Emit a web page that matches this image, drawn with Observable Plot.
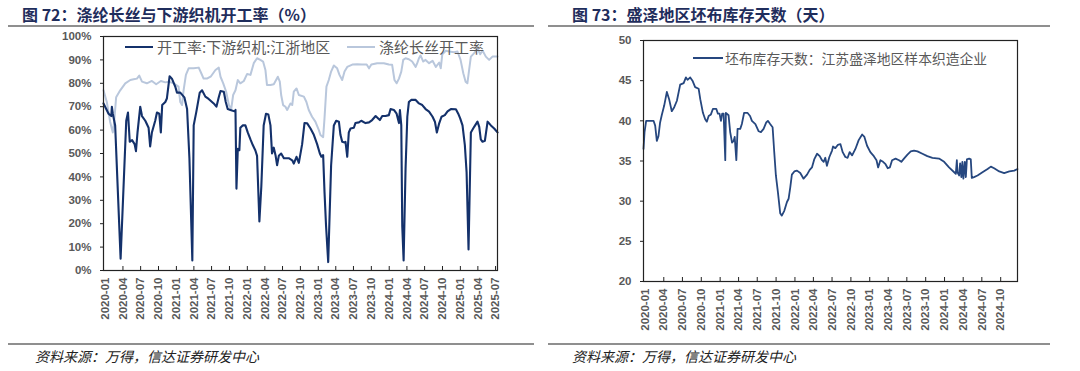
<!DOCTYPE html>
<html><head><meta charset="utf-8">
<script src="https://cdn.jsdelivr.net/npm/d3@7"></script>
<script src="https://cdn.jsdelivr.net/npm/@observablehq/plot@0.6"></script>
<style>
body{margin:0;background:#fff;width:1080px;height:371px;overflow:hidden;font-family:"Noto Sans CJK SC",sans-serif;}
#wrap{position:relative;width:1080px;height:371px;}
.title{position:absolute;top:1px;font-size:16px;line-height:26px;font-weight:bold;color:#1f2d5c;white-space:nowrap;}
.hr{position:absolute;height:2px;background:#8f8f8f;}
.src{position:absolute;top:346px;font-size:14px;line-height:20px;font-style:italic;color:#222;white-space:nowrap;}
.chart{position:absolute;top:0;}
.legend{position:absolute;color:#595959;white-space:nowrap;display:flex;align-items:center;line-height:18px;}
.legend .sw{display:inline-block;height:0;border-top:2px solid;margin-right:4px;}
</style></head>
<body><div id="wrap"></div>
<script>
// ---------- Data ----------
const leftTitle = "图 72：涤纶长丝与下游织机开工率（%）";
const rightTitle = "图 73：盛泽地区坯布库存天数（天）";
const sourceText = "资料来源：万得，信达证券研发中心";
const loomName = "开工率:下游织机:江浙地区";
const filamentName = "涤纶长丝开工率";
const stockName = "坯布库存天数：江苏盛泽地区样本织造企业";

const leftTickLabels = ["2020-01","2020-04","2020-07","2020-10","2021-01","2021-04","2021-07","2021-10","2022-01","2022-04","2022-07","2022-10","2023-01","2023-04","2023-07","2023-10","2024-01","2024-04","2024-07","2024-10","2025-01","2025-04","2025-07"];
const rightTickLabels = ["2020-01","2020-04","2020-07","2020-10","2021-01","2021-04","2021-07","2021-10","2022-01","2022-04","2022-07","2022-10","2023-01","2023-04","2023-07","2023-10","2024-01","2024-04","2024-07","2024-10"];
const leftYTicks = [0,10,20,30,40,50,60,70,80,90,100];
const rightYTicks = [20,25,30,35,40,45,50];

const loomDates = [
"2019-12-23","2020-01-18","2020-02-01","2020-02-04","2020-02-09","2020-02-21","2020-03-20","2020-04-18","2020-04-27","2020-05-06",
"2020-05-18","2020-05-31","2020-06-07","2020-06-15","2020-06-29","2020-07-08","2020-07-25","2020-08-11","2020-08-19","2020-08-28",
"2020-09-14","2020-09-23","2020-10-05","2020-10-13","2020-10-20","2020-11-05","2020-11-13","2020-11-27","2020-12-09","2020-12-26",
"2021-01-04","2021-01-21","2021-02-11","2021-02-25","2021-03-09","2021-03-24","2021-03-31","2021-04-14","2021-05-01","2021-05-13",
"2021-05-30","2021-06-16","2021-07-12","2021-07-26","2021-08-07","2021-08-16","2021-09-02","2021-09-12","2021-09-22","2021-10-06",
"2021-10-27","2021-11-01","2021-11-06","2021-11-13","2021-11-21","2021-11-26","2021-12-08","2021-12-22","2022-01-03","2022-01-17",
"2022-01-29","2022-02-11","2022-02-20","2022-03-04","2022-03-14","2022-03-26","2022-04-07","2022-04-19","2022-04-30","2022-05-08",
"2022-05-17","2022-05-26","2022-06-03","2022-06-12","2022-06-24","2022-07-08","2022-08-02","2022-08-20","2022-08-28","2022-09-11",
"2022-09-23","2022-10-10","2022-10-22","2022-11-05","2022-11-22","2022-12-09","2022-12-26","2023-01-09","2023-01-17","2023-01-26",
"2023-02-02","2023-02-10","2023-02-21","2023-03-08","2023-03-22","2023-04-03","2023-04-17","2023-04-25","2023-05-04","2023-05-16",
"2023-05-21","2023-05-30","2023-06-07","2023-06-16","2023-07-03","2023-07-11","2023-07-29","2023-08-10","2023-09-01","2023-09-19",
"2023-10-05","2023-10-23","2023-11-04","2023-11-14","2023-11-26","2023-12-13","2023-12-30","2024-01-08","2024-01-25","2024-02-08",
"2024-02-20","2024-02-25","2024-03-03","2024-03-08","2024-03-15","2024-03-25","2024-04-03","2024-04-11","2024-04-23","2024-05-16",
"2024-06-02","2024-06-19","2024-07-06","2024-07-24","2024-08-11","2024-08-23","2024-09-02","2024-09-14","2024-09-26","2024-10-13",
"2024-10-27","2024-11-13","2024-12-09","2024-12-21","2024-12-31","2025-01-12","2025-01-24","2025-02-02","2025-02-12","2025-02-24",
"2025-03-13","2025-03-30","2025-04-08","2025-04-16","2025-04-25","2025-05-07","2025-05-21","2025-06-07","2025-06-24","2025-07-11"];
const loomRate = [
71.4,67,66,70,67,62,5,64,67.5,55,
55.7,54,51,59,70,66,64,61,53,59,
64,67.5,67,59,70.7,72,73.5,83,82,78.6,
76,76,74,69,48,4.3,62,68,76,77,
74.3,73.3,71.4,70,74,76.7,76.4,72,69,68.6,
68,68.6,35,52,51.4,61,62,62,59,56,
53.6,51.4,49,21,36,62,67,66.7,62,50,
52.5,49.3,45,49,50,48,48,47.1,45.7,48.6,
46,54,63,62.9,60.7,58,54,50,48.6,49.3,
33.6,19,3.6,45,62,64,63.6,58,55,54.7,
55,48.6,59,60.7,61,63,63.3,64,63,63.3,
64.3,66,65.1,64.3,66,66,66.4,69,68.6,67,
63,68.6,62,19,4.3,43.6,65.7,72,72.9,72.9,
71.4,70.7,69,67.9,65.7,63.6,59,62.9,65.7,66.4,
68,69,68.9,67,65,62,53.6,42,9,59,
61.4,63.6,61.4,56,55,55.4,63.6,62,60.7,59];

const filamentDates = [
"2019-12-23","2020-01-09","2020-01-26","2020-02-09","2020-02-16","2020-02-26","2020-03-18","2020-04-13","2020-05-09","2020-05-26",
"2020-06-12","2020-06-24","2020-07-08","2020-08-02","2020-08-28","2020-09-19","2020-10-13","2020-11-05","2020-11-22","2020-12-18",
"2021-01-12","2021-01-21","2021-01-30","2021-02-07","2021-02-19","2021-03-05","2021-03-31","2021-04-26","2021-05-09","2021-05-21",
"2021-06-07","2021-06-28","2021-07-21","2021-08-07","2021-08-16","2021-08-30","2021-09-14","2021-09-28","2021-10-10","2021-10-20",
"2021-11-01","2021-11-13","2021-11-26","2021-12-14","2021-12-31","2022-01-17","2022-02-03","2022-02-20","2022-03-09","2022-03-23",
"2022-04-04","2022-04-12","2022-04-30","2022-05-17","2022-06-07","2022-06-17","2022-06-24","2022-07-04","2022-07-16","2022-07-25",
"2022-08-11","2022-08-20","2022-08-28","2022-09-11","2022-09-23","2022-10-19","2022-11-01","2022-11-13","2022-11-30","2022-12-17",
"2023-01-04","2023-01-12","2023-01-26","2023-02-02","2023-02-12","2023-02-24","2023-03-08","2023-03-22","2023-04-08","2023-04-20",
"2023-05-04","2023-05-16","2023-05-30","2023-06-25","2023-07-20","2023-08-15","2023-09-07","2023-09-19","2023-10-01","2023-10-31",
"2023-12-04","2023-12-30","2024-01-16","2024-01-28","2024-02-08","2024-02-20","2024-03-03","2024-03-13","2024-03-25","2024-04-11",
"2024-04-28","2024-05-16","2024-05-24","2024-06-02","2024-06-10","2024-06-24","2024-07-06","2024-07-24","2024-08-11","2024-08-28",
"2024-09-14","2024-09-22","2024-09-30","2024-10-18","2024-11-04","2024-11-30","2024-12-17","2025-01-02","2025-01-16","2025-01-28",
"2025-02-06","2025-02-15","2025-02-24","2025-03-13","2025-03-30","2025-04-13","2025-04-25","2025-05-12","2025-05-29","2025-06-15",
"2025-06-27","2025-07-11"];
const filamentRate = [
77,72,63.6,59,63.6,74,77,80,81.4,81.7,
82,83.3,80.7,80,81,79.6,81,80.4,80.7,80,
78.6,72,70.7,77,83.6,86.4,86.4,86.7,84.3,82,
82,83,85.7,86.7,82.8,80,76.4,70.7,69,75,
77,81.4,80,81,84,83.6,88.6,90.7,90,89.3,
85.7,79.3,79.3,79.6,82.8,80.7,75,70.7,70,68.6,
71.4,70.7,76.4,77.8,75,74.3,72,68.6,65.7,63.6,
60,57.9,57,65,78.6,81.4,85,87.6,86.4,83.6,
81.4,85,87,88,88.1,88,88,86.4,88,88.6,
88.6,88,87.9,81.4,80,82,85,90,90.7,90.3,
89.3,87,88.6,90.7,91.9,89.3,90,88.6,89.6,87,
88.9,86.4,92.4,93.9,93.6,93.3,93.6,90,84.3,80.7,
80,85.7,91.4,92.9,95,92.4,94,91.4,90,91.4,
91.4,91.4];

const stockDates = [
"2019-12-24","2019-12-29","2020-01-06","2020-02-11","2020-02-19","2020-02-27","2020-03-06","2020-03-14","2020-03-22","2020-04-03",
"2020-04-16","2020-04-27","2020-05-10","2020-05-22","2020-06-04","2020-06-20","2020-07-07","2020-07-18","2020-07-26","2020-08-08",
"2020-08-19","2020-09-01","2020-09-18","2020-09-26","2020-10-09","2020-10-20","2020-10-28","2020-11-06","2020-11-17","2020-11-27",
"2020-12-13","2020-12-21","2020-12-29","2021-01-05","2021-01-11","2021-01-18","2021-01-26","2021-01-29","2021-02-11","2021-02-19",
"2021-02-28","2021-03-08","2021-03-13","2021-03-21","2021-03-27","2021-04-09","2021-04-17","2021-04-28","2021-05-14","2021-05-27",
"2021-06-05","2021-06-22","2021-07-08","2021-07-19","2021-08-01","2021-08-14","2021-08-22","2021-09-02","2021-09-14","2021-09-22",
"2021-09-30","2021-10-10","2021-10-21","2021-10-29","2021-11-10","2021-11-23","2021-12-01","2021-12-09","2021-12-17","2021-12-29",
"2022-01-11","2022-01-27","2022-02-12","2022-03-01","2022-03-14","2022-03-25","2022-04-05","2022-04-19","2022-05-02","2022-05-13",
"2022-05-21","2022-05-29","2022-06-06","2022-06-18","2022-07-01","2022-07-06","2022-07-17","2022-07-29","2022-08-11","2022-08-22",
"2022-09-04","2022-09-15","2022-09-25","2022-10-07","2022-10-23","2022-11-08","2022-11-25","2022-12-06","2022-12-19","2023-01-04",
"2023-01-21","2023-02-03","2023-02-11","2023-02-22","2023-03-07","2023-03-19","2023-03-30","2023-04-09","2023-04-20","2023-05-07",
"2023-05-24","2023-06-04","2023-06-17","2023-07-04","2023-07-20","2023-08-05","2023-08-22","2023-09-15","2023-10-09","2023-11-03",
"2023-12-05","2023-12-30","2024-01-23","2024-02-17","2024-02-25","2024-03-01","2024-03-04","2024-03-12","2024-03-17","2024-03-23",
"2024-03-28","2024-04-02","2024-04-09","2024-04-14","2024-04-19","2024-04-30","2024-05-08","2024-05-13","2024-05-24","2024-06-10",
"2024-07-04","2024-07-29","2024-08-14","2024-08-30","2024-09-24","2024-10-18","2024-11-12","2024-12-06","2024-12-22"];
const stockDays = [
36.5,38.6,40,40,39.4,37.5,38.1,39.8,40.7,41.9,
43.6,42.7,41.2,41.7,42.5,44.5,44.7,45.4,45.1,45.4,
45,44.2,44,42.7,41,40.2,39.9,40.6,40.8,41.5,
41.5,40.9,40.9,40,40.9,40.9,35.1,41,40.7,38.6,
37.3,37.5,38,35.1,39,39,39.6,41,41,40.6,
40,39.6,38.7,38.6,39,39.8,40,39.6,39.2,36.1,
33.2,31.1,28.5,28.2,28.8,29.9,30.3,31.7,33.3,33.7,
33.8,33.5,32.8,33.3,33.9,34.2,35.2,35.9,35.6,35.1,
34.9,35.4,34.4,35.5,36.3,36.8,36.6,37,37.1,36.1,
35.5,35.4,36.1,35.7,36.5,37.6,38.3,38,36.9,36.1,
35.6,35.1,34.2,35.1,34.9,34.6,34.1,34.2,35.1,35.3,
35.1,34.9,35.3,35.8,36.2,36.3,36.2,35.9,35.6,35.4,
35.3,34.9,34.2,33.6,33.4,35.1,33.6,33.2,34.7,33,
34.9,32.8,34.9,33,35.2,35.3,35.2,32.9,33,33.2,
33.6,34,34.3,34.1,33.7,33.5,33.7,33.8,34];

// ---------- Build ----------
const parse = d3.utcParse("%Y-%m-%d");
const parseM = d3.utcParse("%Y-%m");
const fmt = d3.utcFormat("%Y-%m");
const loom = loomDates.map((d, i) => ({date: parse(d), v: loomRate[i]}));
const filament = filamentDates.map((d, i) => ({date: parse(d), v: filamentRate[i]}));
const stock = stockDates.map((d, i) => ({date: parse(d), v: stockDays[i]}));
const leftTicks = leftTickLabels.map(parseM);
const rightTicks = rightTickLabels.map(parseM);

const DARK = "#14316b", LIGHT = "#b9c7dc", RIGHTLINE = "#26477f";
const axisStyle = {fontFamily: "'Liberation Sans', Arial, sans-serif", fontSize: "11.5px", fontWeight: "bold", color: "#595959", background: "transparent", overflow: "visible"};

const wrap = document.getElementById("wrap");
function add(html){ wrap.insertAdjacentHTML("beforeend", html); }

const leftPlot = Plot.plot({
  width: 540, height: 345,
  marginLeft: 103, marginRight: 43, marginTop: 36, marginBottom: 75,
  style: axisStyle,
  x: {type: "utc", domain: [parse("2019-12-23"), parse("2025-07-11")]},
  y: {domain: [0, 100]},
  marks: [
    Plot.axisY(leftYTicks, {label: null, tickSize: 3, tickPadding: 9, tickFormat: d => d + "%", stroke: "#222"}),
    Plot.axisX(leftTicks, {label: null, tickSize: 0, tickRotate: -90, tickPadding: 7, tickFormat: fmt}),
    Plot.tickX(leftTicks.slice(1), {x: d => d, insetTop: 230, stroke: "#222"}),
    Plot.line(filament, {x: "date", y: "v", stroke: LIGHT, strokeWidth: 2}),
    Plot.line(loom, {x: "date", y: "v", stroke: DARK, strokeWidth: 2.1}),
    Plot.frame({stroke: "#222", strokeWidth: 1.2})
  ]
});
leftPlot.classList.add("chart"); leftPlot.style.left = "0px";
wrap.appendChild(leftPlot);

const rightPlot = Plot.plot({
  width: 540, height: 345,
  marginLeft: 103, marginRight: 63, marginTop: 40, marginBottom: 64,
  style: axisStyle,
  x: {type: "utc", domain: [parse("2019-12-24"), parse("2024-12-22")]},
  y: {domain: [20, 50]},
  marks: [
    Plot.axisY(rightYTicks, {label: null, tickSize: 3, tickPadding: 9, stroke: "#222"}),
    Plot.axisX(rightTicks, {label: null, tickSize: 0, tickRotate: -90, tickPadding: 7, tickFormat: fmt}),
    Plot.tickX(rightTicks.slice(1), {x: d => d, insetTop: 237, stroke: "#222"}),
    Plot.line(stock, {x: "date", y: "v", stroke: RIGHTLINE, strokeWidth: 1.8}),
    Plot.frame({stroke: "#222", strokeWidth: 1.2})
  ]
});
rightPlot.classList.add("chart"); rightPlot.style.left = "540px";
wrap.appendChild(rightPlot);

// titles, rules, legends, source
add(`<div class="title" style="left:22px">${leftTitle}</div>`);
add(`<div class="title" style="left:572px">${rightTitle}</div>`);
add(`<div class="hr" style="left:8px;width:526px;top:25px"></div>`);
add(`<div class="hr" style="left:548px;width:502px;top:25px"></div>`);
add(`<div class="hr" style="left:8px;width:526px;top:343px"></div>`);
add(`<div class="hr" style="left:548px;width:502px;top:343px"></div>`);
add(`<div class="src" style="left:35px">${sourceText}</div>`);
add(`<div class="src" style="left:572px">${sourceText}</div>`);
add(`<div class="legend" style="left:125px;top:38px;font-size:15px"><span class="sw" style="width:28px;border-color:${DARK}"></span>${loomName}</div>`);
add(`<div class="legend" style="left:347px;top:38px;font-size:15px"><span class="sw" style="width:28px;border-color:${LIGHT}"></span>${filamentName}</div>`);
add(`<div class="legend" style="left:693px;top:49px;font-size:13.8px"><span class="sw" style="width:30px;margin-right:2px;border-color:${RIGHTLINE}"></span>${stockName}</div>`);
</script></body></html>
